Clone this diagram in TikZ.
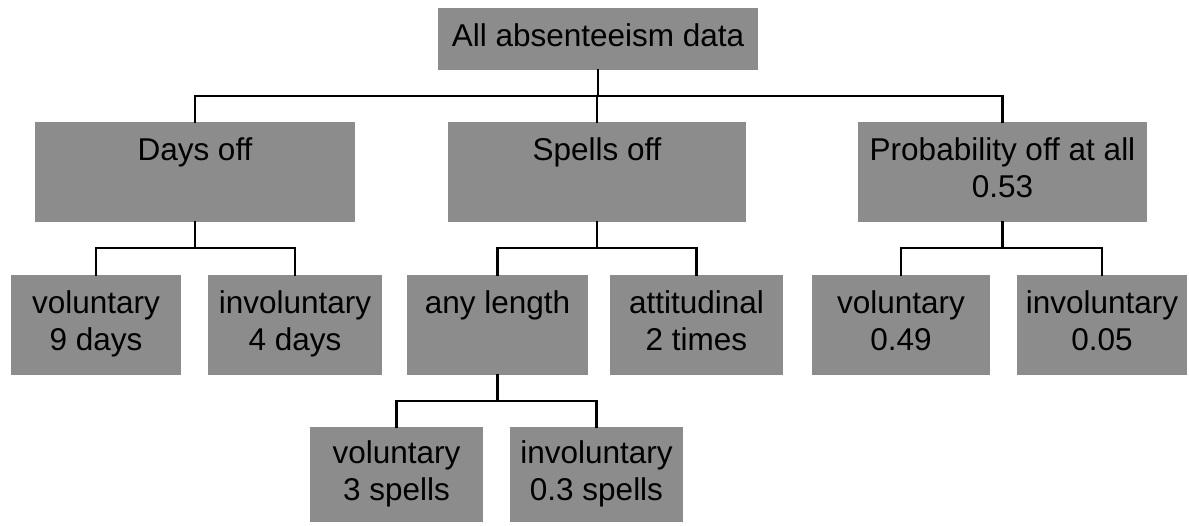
\documentclass[tikz,border=0pt]{standalone}
\usepackage{fontspec}
\setmainfont{Liberation Sans}
\definecolor{boxgray}{HTML}{8C8C8C}
\newcommand{\boxlines}[2]{\strut#1\\\strut#2}

\begin{document}
\begin{tikzpicture}[
    x=1pt, y=-1pt, % pixel units, (0,0) at top left
    box/.style={rectangle, fill=boxgray, inner sep=0pt, align=center,
        font=\fontsize{31.5}{37}\selectfont},
    link/.style={line width=2.2pt, line cap=rect}
]
\useasboundingbox (0,0) rectangle (1189,525);
% top level
\node[box, minimum width=320, minimum height=62] (root) at (598,39) {\strut All absenteeism data};
\node[box, minimum width=320, minimum height=100] (days) at (195,172) {\boxlines{Days off}{}};
\node[box, minimum width=298, minimum height=100] (spells) at (597,172) {\boxlines{Spells off}{}};
\node[box, minimum width=289, minimum height=100] (prob) at (1002.5,172) {\boxlines{Probability off at all}{0.53}};
% second level
\node[box, minimum width=170, minimum height=100] (daysvol) at (96,325) {\boxlines{voluntary}{9 days}};
\node[box, minimum width=174, minimum height=100] (daysinv) at (295,325) {\boxlines{involuntary}{4 days}};
\node[box, minimum width=181, minimum height=100] (anylen) at (497.5,325) {\boxlines{any length}{}};
\node[box, minimum width=173, minimum height=100] (attit) at (696.5,325) {\boxlines{attitudinal}{2 times}};
\node[box, minimum width=178, minimum height=100] (probvol) at (901,325) {\boxlines{voluntary}{0.49}};
\node[box, minimum width=170, minimum height=100] (probinv) at (1102,325) {\boxlines{involuntary}{0.05}};
% third level
\node[box, minimum width=173, minimum height=95] (spellvol) at (396.5,474.5) {\boxlines{voluntary}{3 spells}};
\node[box, minimum width=173, minimum height=95] (spellinv) at (596.5,474.5) {\boxlines{involuntary}{0.3 spells}};
% elbow connectors
\foreach \p/\c in {root/days, root/spells, root/prob,
                   days/daysvol, days/daysinv,
                   spells/anylen, spells/attit,
                   prob/probvol, prob/probinv,
                   anylen/spellvol, anylen/spellinv} {
    \draw[link] (\p.south) -- ++(0,26) -| (\c.north);
}
\end{tikzpicture}
\end{document}
